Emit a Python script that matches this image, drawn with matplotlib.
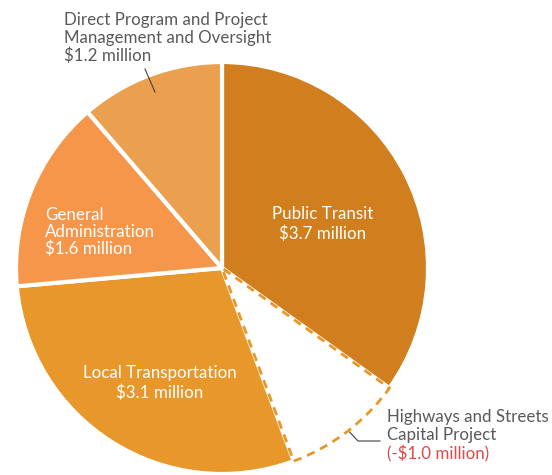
import matplotlib.pyplot as plt

labels = ["Public Transit", "Highways and Streets\nCapital Project", "Local Transportation",
          "General\nAdministration", "Direct Program and Project\nManagement and Oversight"]
amounts = [3.7, -1.0, 3.1, 1.6, 1.2]
value_text = ["$3.7 million", "(-$1.0 million)", "$3.1 million", "$1.6 million", "$1.2 million"]
colors = ["#D17F1E", "#FFFFFF", "#E8972A", "#F5964A", "#EAA04F"]

plt.rcParams['font.family'] = ['Lato', 'DejaVu Sans']

fig = plt.figure(figsize=(5.52, 4.75), dpi=100)
ax = fig.add_axes([0, 0, 1, 1])

cx, cy, r = 222, 475 - 268, 206
sizes = [abs(a) for a in amounts]
wedges, _ = ax.pie(sizes, colors=colors, startangle=90, counterclock=False,
                   center=(cx, cy), radius=r, frame=True,
                   wedgeprops=dict(edgecolor="white", linewidth=3))
ax.set_xlim(0, 552)
ax.set_ylim(0, 475)
ax.set_aspect('equal')
ax.axis('off')

# negative slice: white with dashed outline
hw = wedges[1]
hw.set_edgecolor("#E8972A")
hw.set_linestyle((0, (3, 2.2)))
hw.set_linewidth(2)
hw.set_zorder(5)

white = "white"
grey = "#595959"
fs = 12.2

ax.text(323, 475 - 224, labels[0] + "\n" + value_text[0], ha="center", va="center",
        color=white, fontsize=fs, linespacing=1.3)
ax.text(160, 475 - 383, labels[2] + "\n" + value_text[2], ha="center", va="center",
        color=white, fontsize=fs, linespacing=1.25)
ax.text(45, 475 - 232, labels[3] + "\n" + value_text[3], ha="left", va="center",
        color=white, fontsize=fs, linespacing=1.08)
ax.text(64, 475 - 38, labels[4] + "\n" + value_text[4], ha="left", va="center",
        color=grey, fontsize=fs, linespacing=1.1)
ax.text(387, 475 - 426, labels[1], ha="left", va="center",
        color=grey, fontsize=fs, linespacing=1.15)
ax.text(387, 475 - 454, value_text[1], ha="left", va="center",
        color="#E04848", fontsize=fs)

# leader lines
ax.plot([145, 155], [475 - 69, 475 - 92], color="#404040", lw=0.8)
ax.plot([343, 358, 380], [475 - 425, 475 - 441, 475 - 441], color="#404040", lw=0.8)

fig.savefig("out.png", dpi=100)
